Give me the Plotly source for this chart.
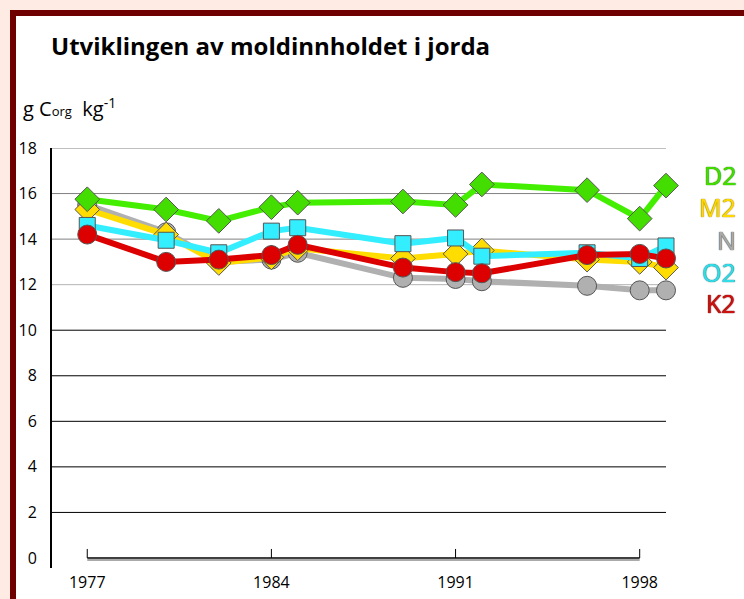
import plotly.graph_objects as go

# ---------------- data ----------------
years = [1977, 1980, 1982, 1984, 1985, 1989, 1991, 1992, 1996, 1998, 1999]
series_names = ["D2", "M2", "N", "O2", "K2"]
D2 = [15.75, 15.3, 14.8, 15.4, 15.6, 15.65, 15.5, 16.4, 16.15, 14.9, 16.35]
M2 = [15.3, 14.2, 12.95, 13.2, 13.6, 13.15, 13.35, 13.5, 13.1, 13.0, 12.75]
N = [15.5, 14.3, 13.0, 13.1, 13.4, 12.3, 12.25, 12.15, 11.95, 11.75, 11.75]
O2 = [14.6, 13.95, 13.4, 14.35, 14.5, 13.8, 14.05, 13.25, 13.4, 13.15, 13.7]
K2 = [14.2, 13.0, 13.1, 13.3, 13.75, 12.75, 12.55, 12.5, 13.3, 13.35, 13.15]
x_ticks = [1977, 1984, 1991, 1998]
y_ticks = [0, 2, 4, 6, 8, 10, 12, 14, 16, 18]
title_text = "Utviklingen av moldinnholdet i jorda"

# ---------------- styling ----------------
W, H = 744, 599
L, R, T, B = 52, 78, 148, 31
PW, PH = W - L - R, H - T - B
FONT = "Open Sans, Lato, DejaVu Sans, sans-serif"

def px_x(p):
    return (p - L) / PW

def px_y(p):
    return (H - B - p) / PH

style = {
    "D2": dict(line="#44ee00", fill="#44dd00", symbol="diamond", size=19, txt="#44dd00", edge="#2b8c00"),
    "M2": dict(line="#ffdd00", fill="#ffdd00", symbol="diamond", size=19, txt="#ffd800", edge="#9a7f00"),
    "N": dict(line="#b0b0b0", fill="#b0b0b0", symbol="circle", size=19, txt="#aaaaaa", edge="#555555"),
    "O2": dict(line="#33eeff", fill="#33eeff", symbol="square", size=16, txt="#33dde8", edge="#1e7f88"),
    "K2": dict(line="#dd0000", fill="#dd0000", symbol="circle", size=19, txt="#cc1111", edge="#7a0a0a"),
}
values = {"D2": D2, "M2": M2, "N": N, "O2": O2, "K2": K2}
draw_order = ["N", "M2", "O2", "K2", "D2"]

fig = go.Figure()
for name in draw_order:
    s = style[name]
    fig.add_trace(go.Scatter(
        x=years, y=values[name], name=name, mode="lines+markers",
        line=dict(color=s["line"], width=6),
        marker=dict(symbol=s["symbol"], size=s["size"], color=s["fill"],
                    line=dict(color="#555555", width=1)),
        cliponaxis=False, showlegend=False, hoverinfo="skip",
    ))

shapes = []
# white panel with dark red frame
shapes.append(dict(type="rect", xref="paper", yref="paper",
                   x0=px_x(13), x1=px_x(820), y0=px_y(13), y1=px_y(680),
                   line=dict(color="#6e0000", width=6), fillcolor="white", layer="below"))
# horizontal grid lines (skip zero)
grid_cols = {18: "#808080", 16: "#808080", 14: "#808080", 12: "#b4b4b4"}
for v in y_ticks[1:]:
    shapes.append(dict(type="line", xref="x domain", yref="y", x0=0, x1=1, y0=v, y1=v,
                       line=dict(color=grid_cols.get(v, "#000000"), width=1), layer="below"))
# x axis line between first and last tick, with shadow and upward ticks
shapes.append(dict(type="line", xref="x", yref="y", x0=x_ticks[0], x1=x_ticks[-1],
                   ysizemode="pixel", yanchor=0, y0=-2, y1=-2,
                   line=dict(color="#aaaaaa", width=2), layer="below"))
shapes.append(dict(type="line", xref="x", yref="y", x0=x_ticks[0], x1=x_ticks[-1],
                   y0=0, y1=0, line=dict(color="#000000", width=1.3), layer="below"))
for t in x_ticks:
    shapes.append(dict(type="line", xref="x", yref="y", x0=t, x1=t,
                       ysizemode="pixel", yanchor=0, y0=0, y1=9,
                       line=dict(color="#000000", width=1), layer="below"))

annotations = []
annotations.append(dict(text="<b>" + title_text + "</b>", xref="paper", yref="paper",
                        x=px_x(49), y=px_y(45), xanchor="left", yanchor="middle",
                        showarrow=False, font=dict(family=FONT, size=24, color="#000000")))
annotations.append(dict(text="g C<span style='font-size:13px'>org</span>  kg<sup>-1</sup>",
                        xref="paper", yref="paper", x=px_x(21), y=px_y(108),
                        xanchor="left", yanchor="middle", showarrow=False,
                        font=dict(family=FONT, size=20, color="#000000")))
legend_y = [175, 207, 240, 272, 303]
for name, yy in zip(series_names, legend_y):
    s = style[name]
    e = s["edge"]
    annotations.append(dict(text=name, xref="paper", yref="paper", x=px_x(738), y=px_y(yy),
                            xanchor="right", yanchor="middle", showarrow=False,
                            font=dict(family=FONT, size=25, color=s["txt"],
                                      shadow=f"0 0 1px {e}, 0 0 1px {e}")))

fig.update_layout(
    template="none",
    width=W, height=H, autosize=False,
    margin=dict(l=L, r=R, t=T, b=B, pad=0),
    paper_bgcolor="#fdebe4", plot_bgcolor="white",
    shapes=shapes, annotations=annotations,
    font=dict(family=FONT, color="#000000"),
    xaxis=dict(range=[1975.66, 1999.0], tickvals=x_ticks, showgrid=False, zeroline=False,
               showline=False, ticks="", tickfont=dict(size=16), ticklabelstandoff=3,
               automargin=False),
    yaxis=dict(range=[-0.44, 18], tickvals=y_ticks, showgrid=False, zeroline=False,
               showline=True, linecolor="#000000", linewidth=2, ticks="",
               tickfont=dict(size=16), ticklabelstandoff=10, automargin=False),
)

fig.write_html("out.html", config={"displayModeBar": False},
               post_script="document.body.style.margin='0';")
